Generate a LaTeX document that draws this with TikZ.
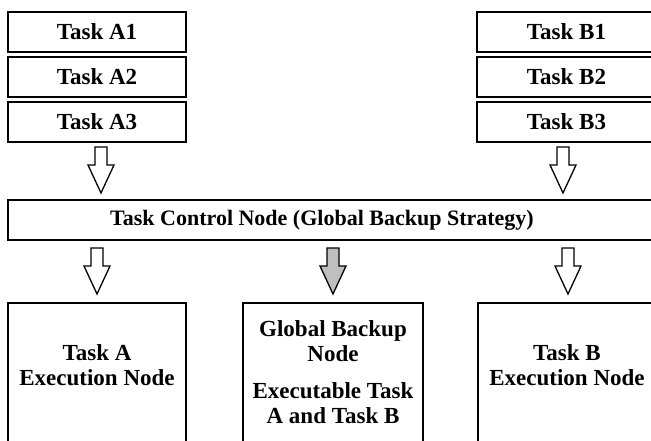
\documentclass[tikz,border=0pt]{standalone}
\usepackage{fontspec}
\setmainfont{Liberation Serif}
\begin{document}
\begin{tikzpicture}[x=1pt,y=-1pt,
  box/.style={draw, line width=1.6pt, inner sep=0pt},
  lbl/.style={font=\fontsize{23}{25}\selectfont\bfseries, align=center, inner sep=0pt},
  barrow/.pic={\draw[line width=1.3pt, fill=#1, line join=miter] (-6,0) -- (6,0) -- (6,18) -- (13,18) -- (0,46) -- (-13,18) -- (-6,18) -- cycle;}]
\useasboundingbox (0,0) rectangle (651,440);
\clip (0,0) rectangle (651,440);
% top task boxes
\node[box, lbl, minimum width=178pt, minimum height=40pt] (a1) at (97,32) {Task A1};
\node[box, lbl, minimum width=178pt, minimum height=40pt] (a2) at (97,77) {Task A2};
\node[box, lbl, minimum width=178pt, minimum height=40pt] (a3) at (97,122) {Task A3};
\node[box, lbl, minimum width=179pt, minimum height=40pt] (b1) at (566.5,32) {Task B1};
\node[box, lbl, minimum width=179pt, minimum height=40pt] (b2) at (566.5,77) {Task B2};
\node[box, lbl, minimum width=179pt, minimum height=40pt] (b3) at (566.5,122) {Task B3};
% control node
\node[box, minimum width=652pt, minimum height=40pt] (ctrl) at (334,220) {};
\node[lbl, font=\fontsize{22}{25}\selectfont\bfseries] (ctrltext) at (322,220) {Task Control Node (Global Backup Strategy)};
% arrows into control
\pic at (101,147) {barrow=white};
\pic at (563,147) {barrow=white};
% arrows out of control
\pic at (97,248) {barrow=white};
\pic at (333,248) {barrow={gray!50}};
\pic at (568,248) {barrow=white};
% bottom boxes
\node[box, minimum width=178pt, minimum height=160pt, anchor=north] (ea) at (97,302) {};
\node[box, minimum width=180pt, minimum height=160pt, anchor=north] (gb) at (333,302) {};
\node[box, minimum width=182pt, minimum height=160pt, anchor=north] (eb) at (569,302) {};
\node[lbl] (eatext) at (97,365) {Task A\\Execution Node};
\node[lbl] (gbtext1) at (333,341) {Global Backup\\Node};
\node[lbl] (gbtext2) at (333,403) {Executable Task\\A and Task B};
\node[lbl] (ebtext) at (567,365) {Task B\\Execution Node};
\end{tikzpicture}
\end{document}
